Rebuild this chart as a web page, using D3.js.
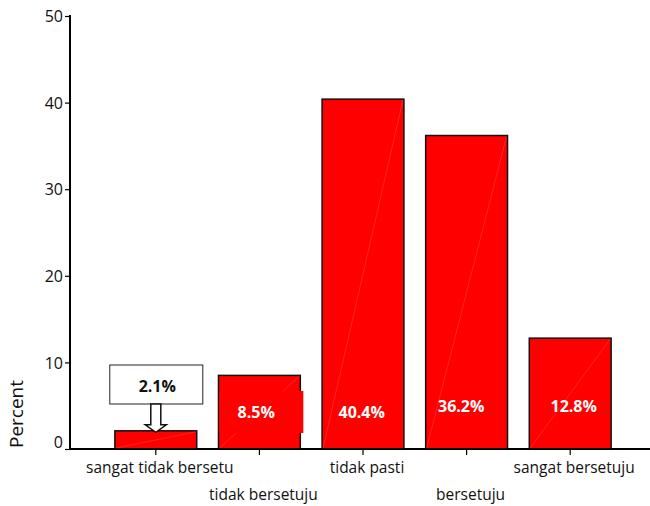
<!DOCTYPE html>
<html>
<head>
<meta charset="utf-8">
<script src="https://cdn.jsdelivr.net/npm/d3@7"></script>
<style>
  html, body { margin: 0; padding: 0; background: #fff; }
  svg { display: block; font-family: "Open Sans", "DejaVu Sans", sans-serif; }
</style>
</head>
<body>
<svg id="chart" width="650" height="506"></svg>
<script>
const categories = ["sangat tidak bersetu", "tidak bersetuju", "tidak pasti", "bersetuju", "sangat bersetuju"];
const percents = [2.1, 8.5, 40.4, 36.2, 12.8];
const valueLabels = ["2.1%", "8.5%", "40.4%", "36.2%", "12.8%"];
const yTicks = [0, 10, 20, 30, 40, 50];

// layout tweaks for value labels (pixel offsets from bar centre / baseline)
const labelDx = [1.5, -3.2, -1.3, -5.4, 3.5];
const labelBaseline = [392, 417.7, 417.7, 412.3, 412.3];

const svg = d3.select("#chart");
const W = 650;
const axisX = 70, axisY = 449, topY = 16;

const y = d3.scaleLinear().domain([0, 50]).range([axisY, topY]);
const x = d3.scaleBand().domain(categories).range([104, 622]).paddingInner(0.21).paddingOuter(0.105);
const cx = d => x(d) + x.bandwidth() / 2;

// bars
const bars = svg.append("g");
bars.selectAll("rect").data(categories).join("rect")
  .attr("x", d => x(d))
  .attr("y", (d, i) => y(percents[i]))
  .attr("width", x.bandwidth())
  .attr("height", (d, i) => y(0) - y(percents[i]))
  .attr("fill", "#ff0000")
  .attr("stroke", "#111")
  .attr("stroke-width", 1.5);

// faint diagonal rendering seam
bars.selectAll("line").data(categories).join("line")
  .attr("x1", d => x(d) + 1)
  .attr("y1", axisY - 1)
  .attr("x2", d => x(d) + x.bandwidth() - 1)
  .attr("y2", (d, i) => y(percents[i]) + 1)
  .attr("stroke", "#ff9090")
  .attr("stroke-width", 0.6)
  .attr("stroke-opacity", 0.4);

// red label background for the 8.5% label (extends past bar edge)
svg.append("rect")
  .attr("x", x(categories[1]) + 0.8)
  .attr("y", 391)
  .attr("width", x.bandwidth() + 2.2)
  .attr("height", 42)
  .attr("fill", "#ff0000");

svg.append("g").selectAll("text").data(categories.slice(1)).join("text")
  .attr("x", (d, i) => cx(d) + labelDx[i + 1])
  .attr("y", (d, i) => labelBaseline[i + 1])
  .attr("text-anchor", "middle")
  .attr("fill", "#fff")
  .attr("font-weight", "bold")
  .attr("font-size", "16px")
  .text((d, i) => valueLabels[i + 1]);

// callout for first bar
{
  const c = cx(categories[0]);
  const top = y(percents[0]);
  const g = svg.append("g");
  g.append("rect")
    .attr("x", c - 46).attr("y", 365)
    .attr("width", 93).attr("height", 39)
    .attr("fill", "#fff").attr("stroke", "#222").attr("stroke-width", 1);
  g.append("text")
    .attr("x", c + labelDx[0]).attr("y", labelBaseline[0])
    .attr("text-anchor", "middle")
    .attr("font-weight", "bold").attr("font-size", "16px")
    .attr("fill", "#111")
    .text(valueLabels[0]);
  const sh = 5, hw = 10.5, headY = top - 6;
  const pts = [[c - sh, 404], [c + sh, 404], [c + sh, headY], [c + hw, headY], [c, top + 1.5], [c - hw, headY], [c - sh, headY]];
  g.append("polygon")
    .attr("points", pts.map(p => p.join(",")).join(" "))
    .attr("fill", "#fff").attr("stroke", "#111").attr("stroke-width", 1.5)
    .attr("stroke-linejoin", "miter");
}

// Y axis
const yAxis = d3.axisLeft(y).tickValues(yTicks).tickSize(5).tickPadding(2).tickFormat(d3.format("d"));
const gy = svg.append("g").attr("transform", `translate(${axisX},0)`).call(yAxis);
gy.select(".domain").remove();
gy.selectAll(".tick line").attr("stroke", "#000").attr("stroke-width", 1.2);
gy.selectAll(".tick text")
  .attr("font-size", "16px").attr("fill", "#111")
  .attr("font-family", "Open Sans, sans-serif")
  .attr("dy", d => d === 0 ? "-0.1em" : "0.35em");
svg.append("line")
  .attr("x1", axisX).attr("x2", axisX)
  .attr("y1", topY - 1).attr("y2", axisY + 1)
  .attr("stroke", "#000").attr("stroke-width", 2);

// X axis
const xAxis = d3.axisBottom(x).tickSize(6).tickFormat("");
const gx = svg.append("g").attr("transform", `translate(0,${axisY})`).call(xAxis);
gx.select(".domain").remove();
gx.selectAll(".tick line").attr("stroke", "#000").attr("stroke-width", 1.2);
svg.append("line")
  .attr("x1", axisX - 1).attr("x2", W)
  .attr("y1", axisY).attr("y2", axisY)
  .attr("stroke", "#000").attr("stroke-width", 2);

svg.append("g").selectAll("text").data(categories).join("text")
  .attr("x", d => cx(d) + 4)
  .attr("y", (d, i) => i % 2 === 0 ? 473 : 500)
  .attr("text-anchor", "middle")
  .attr("font-size", "15.5px")
  .attr("fill", "#111")
  .text(d => d);

// Y axis title
svg.append("text")
  .attr("transform", "translate(23,414) rotate(-90)")
  .attr("text-anchor", "middle")
  .attr("font-size", "19px")
  .attr("fill", "#111")
  .text("Percent");
</script>
</body>
</html>
